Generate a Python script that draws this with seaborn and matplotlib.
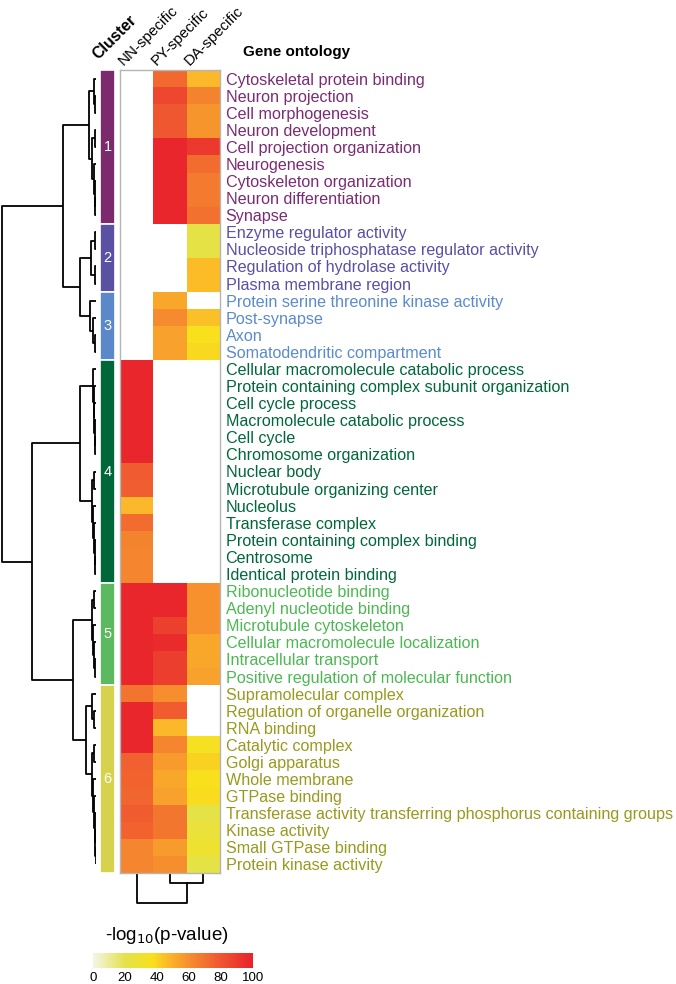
import numpy as np
import pandas as pd
import matplotlib
matplotlib.use("Agg")
import matplotlib.pyplot as plt
import seaborn as sns
from matplotlib.colors import LinearSegmentedColormap

# --- data ---
terms = [
    "Cytoskeletal protein binding", "Neuron projection", "Cell morphogenesis",
    "Neuron development", "Cell projection organization", "Neurogenesis",
    "Cytoskeleton organization", "Neuron differentiation", "Synapse",
    "Enzyme regulator activity", "Nucleoside triphosphatase regulator activity",
    "Regulation of hydrolase activity", "Plasma membrane region",
    "Protein serine threonine kinase activity", "Post-synapse", "Axon",
    "Somatodendritic compartment",
    "Cellular macromolecule catabolic process",
    "Protein containing complex subunit organization", "Cell cycle process",
    "Macromolecule catabolic process", "Cell cycle", "Chromosome organization",
    "Nuclear body", "Microtubule organizing center", "Nucleolus",
    "Transferase complex", "Protein containing complex binding", "Centrosome",
    "Identical protein binding",
    "Ribonucleotide binding", "Adenyl nucleotide binding",
    "Microtubule cytoskeleton", "Cellular macromolecule localization",
    "Intracellular transport", "Positive regulation of molecular function",
    "Supramolecular complex", "Regulation of organelle organization",
    "RNA binding", "Catalytic complex", "Golgi apparatus", "Whole membrane",
    "GTPase binding",
    "Transferase activity transferring phosphorus containing groups",
    "Kinase activity", "Small GTPase binding", "Protein kinase activity",
]
columns = ["NN-specific", "PY-specific", "DA-specific"]
cluster_names = ["1", "2", "3", "4", "5", "6"]
cluster_sizes = [9, 4, 4, 13, 6, 11]

nan = np.nan
nn_specific = [nan] * 17 + [98, 98, 98, 98, 98, 98, 78, 77, 47, 72, 64, 63, 63,
                            98, 98, 98, 98, 98, 98,
                            69, 98, 98, 98, 76, 75, 74, 78, 75, 63, 63]
py_specific = [73, 85, 79, 79, 98, 98, 98, 98, 98,
               nan, nan, nan, nan,
               52, 61, 54, 54] + [nan] * 13 + [98, 98, 88, 96, 89, 89,
                                               60, 78, 47, 63, 56, 52, 54, 68, 68, 56, 60]
da_specific = [47, 64, 58, 58, 90, 72, 67, 67, 70,
               22, 22, 46, 46,
               nan, 45, 37, 39] + [nan] * 13 + [59, 59, 59, 52, 52, 54,
                                                nan, nan, nan, 35, 41, 37, 38, 22, 26, 30, 22]

# dendrograms: [merge height, left, right], leaves are row / column indices
row_tree = [94,
            [33,
             [7, [2, 0, [1, 1, 2]], [4, [1.5, 3, 4], [2.5, 5, [1.5, 6, [1, 7, 8]]]]],
             [16,
              [5, [1.5, 9, 10], [1.5, 11, 12]],
              [6, 13, [3, 14, [1.5, 15, 16]]]]],
            [64,
             [16,
              [3, 17, [2.5, 18, [2, 19, [1.5, 20, [1, 21, 22]]]]],
              [4, [2, 23, 24], [3, 25, [2, 26, [1.5, 27, [1, 28, 29]]]]]],
             [23,
              [4, [2, 30, 31], [3, 32, [2, 33, [1, 34, 35]]]],
              [10,
               [4, 36, [2, 37, 38]],
               [4, [2, 39, 40], [3, 41, [2, 42, [1.5, 43, [1, 44, [0.5, 45, 46]]]]]]]]]]
col_tree = [1.0, 0, [0.3, 1, 2]]

cluster_colors = ["#7b2a6e", "#5a51a2", "#5b88c8", "#00673a", "#5cb960", "#d6d24e"]
label_colors = ["#7b2b74", "#5a4fa3", "#5b8bcc", "#00673a", "#4cb852", "#99991e"]
cbar_ticks = [0, 20, 40, 60, 80, 100]
cmap_stops = [0, 20, 37, 47, 62, 80, 100]
cmap_colors = ["#f5f5e6", "#e2e24c", "#f8e01c", "#fbb82a", "#f5882e", "#ef5530", "#e8212b"]

df = pd.DataFrame({"NN-specific": nn_specific, "PY-specific": py_specific,
                   "DA-specific": da_specific}, index=terms)

cmap = LinearSegmentedColormap.from_list(
    "plog", list(zip([s / 100 for s in cmap_stops], cmap_colors)))

plt.rcParams['font.family'] = ['Liberation Sans', 'DejaVu Sans']

W, H = 676, 984
fig = plt.figure(figsize=(W / 100, H / 100), dpi=100)


def box(x, y, w, h):
    return [x / W, 1 - (y + h) / H, w / W, h / H]


def walk(node, segs):
    # returns (position, height) of node, collects U-shaped segments
    if not isinstance(node, list):
        return node + 0.5, 0.0
    h, left, right = node
    pl, hl = walk(left, segs)
    pr, hr = walk(right, segs)
    segs.append(([pl, pl, pr, pr], [hl, h, h, hr]))
    return (pl + pr) / 2, h


ax_heat = fig.add_axes(box(120, 70, 100, 803))
ax_rden = fig.add_axes(box(0, 70, 96, 803))
ax_clu = fig.add_axes(box(100, 70, 15, 803))
ax_cden = fig.add_axes(box(120, 875, 100, 28))
ax_cbar = fig.add_axes(box(93, 953, 160, 15))

# --- heatmap ---
sns.heatmap(df, ax=ax_heat, cmap=cmap, vmin=0, vmax=100, cbar_ax=ax_cbar,
            cbar_kws={"orientation": "horizontal", "ticks": cbar_ticks},
            xticklabels=False, yticklabels=True)
ax_heat.yaxis.tick_right()
ax_heat.set_yticks(np.arange(len(terms)) + 0.5)
ax_heat.set_yticklabels(terms, rotation=0, fontsize=11.6)
ax_heat.tick_params(axis="y", length=0, pad=4)
ax_heat.set_ylabel("")
row_colors = np.repeat(label_colors, cluster_sizes)
for lab, c in zip(ax_heat.get_yticklabels(), row_colors):
    lab.set_color(c)
for sp in ax_heat.spines.values():
    sp.set_visible(True)
    sp.set_color("#b5b5b5")
    sp.set_linewidth(1.0)

for j, name in enumerate(columns):
    ax_heat.text(j + 0.1, -0.25, name, rotation=45, rotation_mode="anchor",
                 ha="left", va="baseline", fontsize=11, clip_on=False)
ax_heat.text(3.7, -1.05, "Gene ontology", fontweight="bold", fontsize=11,
             ha="left", va="center", clip_on=False)

# --- cluster bar ---
edges = np.concatenate([[0], np.cumsum(cluster_sizes)])
centers = (edges[:-1] + edges[1:]) / 2
ax_clu.barh(centers, 1, height=cluster_sizes, color=cluster_colors,
            edgecolor="white", linewidth=1.2)
for c, name in zip(centers, cluster_names):
    ax_clu.text(0.5, c, name, color="white", ha="center", va="center", fontsize=10.5)
ax_clu.set_ylim(len(terms), 0)
ax_clu.set_xlim(0, 1)
ax_clu.axis("off")
ax_clu.text(-0.1, -0.6, "Cluster", rotation=45, rotation_mode="anchor",
            ha="left", va="baseline", fontsize=11.5, fontweight="bold", clip_on=False)

# --- row dendrogram ---
segs = []
walk(row_tree, segs)
for ys, xs in segs:
    ax_rden.plot(xs, ys, color="black", lw=1.3, solid_capstyle="butt")
ax_rden.set_ylim(len(terms), 0)
ax_rden.set_xlim(96, 0)
ax_rden.axis("off")

# --- column dendrogram ---
segs = []
walk(col_tree, segs)
for xs, ys in segs:
    ax_cden.plot(xs, ys, color="black", lw=1.3, clip_on=False)
ax_cden.set_xlim(0, len(columns))
ax_cden.set_ylim(1.0, 0)
ax_cden.axis("off")

# --- colour bar ---
cb = ax_heat.collections[0].colorbar
cb.outline.set_visible(False)
ax_cbar.tick_params(length=0, labelsize=9.5, pad=3)
fig.text(105 / W, 1 - 935 / H, "-log$_{10}$(p-value)", fontsize=13.5,
         ha="left", va="center")

fig.savefig("out.png", dpi=100)
